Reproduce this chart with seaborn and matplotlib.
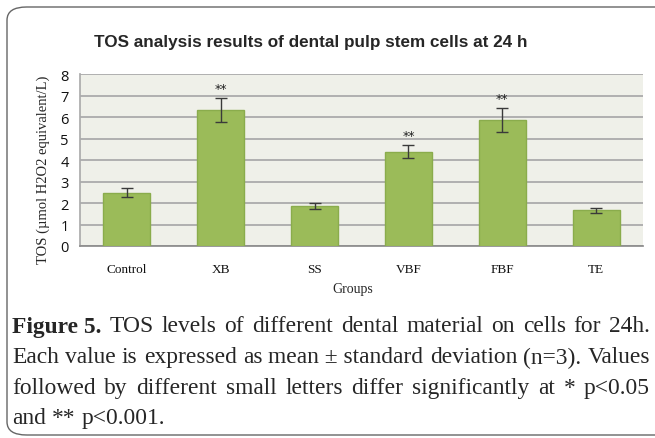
import matplotlib
matplotlib.use("Agg")
import matplotlib.pyplot as plt
from matplotlib.patches import FancyBboxPatch
import seaborn as sns

groups = ["Control", "XB", "SS", "VBF", "FBF", "TE"]
means = [2.48, 6.34, 1.85, 4.40, 5.87, 1.66]
sds = [0.21, 0.58, 0.14, 0.32, 0.56, 0.12]
marks = ["", "**", "", "**", "**", ""]
yticks = [0, 1, 2, 3, 4, 5, 6, 7, 8]

title = "TOS analysis results of dental pulp stem cells at 24 h"
ylabel = "TOS (µmol H2O2 equivalent/L)"
xlabel = "Groups"
caption = [
    [("Figure 5.", "bold"), ("TOS", "normal"), ("levels", "normal"), ("of", "normal"),
     ("different", "normal"), ("dental", "normal"), ("material", "normal"), ("on", "normal"),
     ("cells", "normal"), ("for", "normal"), ("24h.", "normal")],
    [(w, "normal") for w in ["Each", "value", "is", "expressed", "as", "mean ± standard",
                             "deviation", "(n=3).", "Values"]],
    [(w, "normal") for w in ["followed", "by", "different", "small", "letters", "differ",
                             "significantly", "at", "*", "p<0.05"]],
    [(w, "normal") for w in ["and", "**", "p<0.001."]],
]

W, H = 655, 439
bar_color = "#9bbb59"
bar_edge = "#8aac4c"
grid_color = "#ababab"
bg_color = "#eff0e9"
serif = "Liberation Serif"
sans = "Open Sans"

sns.set_theme(style="white")
fig = plt.figure(figsize=(W / 100, H / 100), dpi=100)
fig.patch.set_facecolor("white")
ax = fig.add_axes([80 / W, 1 - 247 / H, 563 / W, (247 - 75.4) / H])
renderer = fig.canvas.get_renderer()

sns.barplot(x=groups, y=means, color=bar_color, width=0.5, edgecolor=bar_edge,
            linewidth=1, saturation=1, ax=ax, zorder=3)
ax.errorbar(range(len(groups)), means, yerr=sds, fmt="none", ecolor="#3a3a3a",
            elinewidth=1, capsize=4, capthick=1, zorder=4)
for i, m in enumerate(marks):
    if m:
        ax.annotate(m, (i, means[i] + sds[i]), xytext=(0, 4.3), textcoords="offset points",
                    ha="center", va="baseline", fontsize=9, family="DejaVu Sans",
                    color="#222222")

ax.set_facecolor(bg_color)
ax.set_ylim(0, 8)
ax.set_xlim(-0.5, len(groups) - 0.5)
ax.set_yticks(yticks)
ax.set_yticklabels([str(t) for t in yticks], family=sans, fontsize=10.5)
ax.yaxis.grid(True, color=grid_color, linewidth=1.3, zorder=0)
ax.set_axisbelow(True)
for s in ["top", "right"]:
    ax.spines[s].set_visible(False)
ax.spines["left"].set_color(grid_color)
ax.spines["bottom"].set_color("#8c8c8c")
ax.tick_params(axis="both", length=0, pad=8, colors="#111111")
for lab in ax.get_xticklabels():
    lab.set_family(serif)
    lab.set_fontsize(9.5)
ax.tick_params(axis="x", pad=12)
ax.set_xlabel("")
ax.set_ylabel("")

fig.text(353 / W, 1 - 290 / H, xlabel, family=serif, fontsize=10, ha="center", va="center")
fig.text(43 / W, 1 - 170 / H, ylabel, family=serif, fontsize=10.5, ha="center", va="center",
         rotation=90)
t = fig.text(311 / W, 1 - 43 / H, title, family="Liberation Sans",
             fontweight="bold", fontsize=15, ha="center", va="center")
tw = t.get_window_extent(renderer).width
t.set_fontsize(15 * 435 / tw)

# rounded border, open on the right
border = FancyBboxPatch((7 / W, 1 - 436 / H), 680 / W, 428 / H,
                        boxstyle="round,pad=0,rounding_size=0.03",
                        transform=fig.transFigure, fill=False, edgecolor="#666666",
                        linewidth=1, clip_on=False)
fig.patches.append(border)

# justified caption, font sized so the first line fits with normal spacing
left, right = 12, 650
line_y = [327, 358, 389, 419]
probe = [fig.text(0, 0, w, family=serif, fontsize=15, fontweight=wt) for w, wt in caption[0]]
natural = sum(p.get_window_extent(renderer).width for p in probe)
for p in probe:
    p.remove()
space = 0.25 * 15 * 100 / 72
cap_size = 0.97 * 15 * (right - left) / (natural + space * (len(caption[0]) - 1))
for li, words in enumerate(caption):
    texts = [fig.text(0, 1 - line_y[li] / H, w, family=serif, fontsize=cap_size,
                      fontweight=wt, va="center", ha="left") for w, wt in words]
    widths = [t.get_window_extent(renderer).width for t in texts]
    if li < len(caption) - 1:
        gap = (right - left - sum(widths)) / (len(texts) - 1)
    else:
        gap = 0.25 * cap_size * 100 / 72
    x = left
    for t, w in zip(texts, widths):
        t.set_x(x / W)
        x += w + gap

fig.savefig("out.png", dpi=100, facecolor="white")
